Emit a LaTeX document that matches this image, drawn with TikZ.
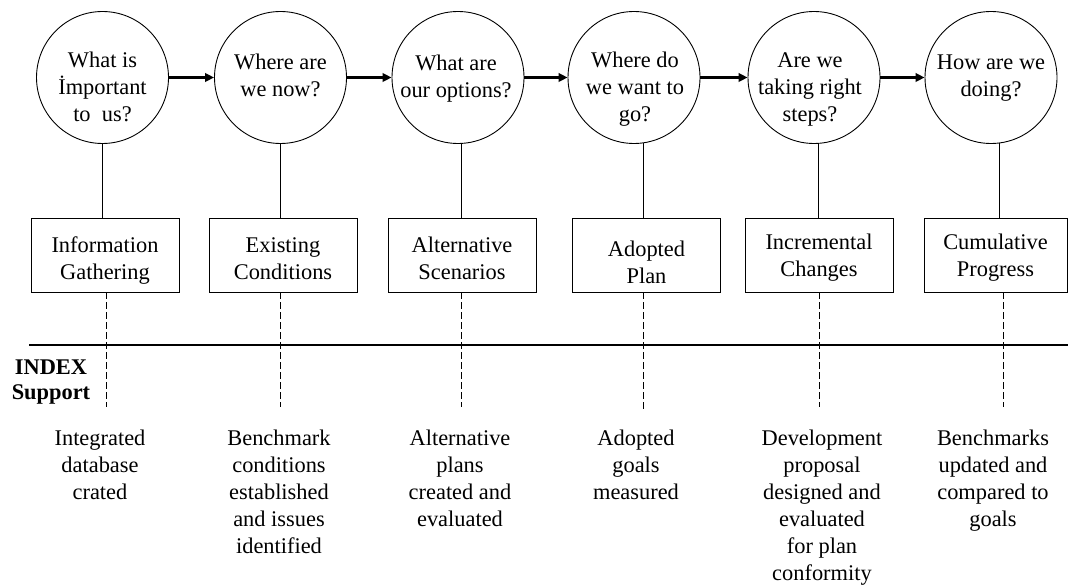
\documentclass[tikz,border=0pt]{standalone}
\usepackage{fontspec}
\setmainfont{Liberation Serif}
\usetikzlibrary{arrows.meta}
% centred multi-line text whose baseline is that of its first line
\newcommand\toplines[1]{\begin{tabular}[t]{@{}c@{}}#1\end{tabular}}
\begin{document}
\begin{tikzpicture}[x=1pt,y=-1pt,
  question/.style={circle,draw,line width=0.9pt,minimum size=132pt,inner sep=0pt},
  stagebox/.style={rectangle,draw,line width=0.9pt,minimum width=148pt,minimum height=74pt,inner sep=0pt},
  txt/.style={anchor=base,inner sep=0pt,font=\fontsize{22.4}{27}\selectfont},
  flow/.style={line width=2.4pt,-{Triangle[length=9pt,width=8.5pt]}},
  link/.style={line width=0.9pt},
  support/.style={line width=0.9pt,dash pattern=on 7pt off 3pt},
  divider/.style={line width=2.6pt},
]
\useasboundingbox (0,0) rectangle (1068,585);

% planning questions
\node[question] (c1) at (102.5,77.5) {};
\node[question] (c2) at (280.5,77.5) {};
\node[question] (c3) at (458,77.5) {};
\node[question] (c4) at (634,77.5) {};
\node[question] (c5) at (814,77.5) {};
\node[question] (c6) at (991,77.5) {};

\node[txt] (q1) at (102.5,68) {\toplines{What is\\İmportant\\to~~us?}};
\node[txt] (q2) at (280.5,70) {\toplines{Where are\\we now?}};
\node[txt] (q3) at (456,71) {\toplines{What are\\our options?}};
\node[txt] (q4) at (635,68) {\toplines{Where do\\we want to\\go?}};
\node[txt] (q5) at (810,68) {\toplines{Are we\\taking right\\steps?}};
\node[txt] (q6) at (991,70) {\toplines{How are we\\doing?}};

% flow between questions
\foreach \a/\b in {c1/c2,c2/c3,c3/c4,c4/c5,c5/c6}
  \draw[flow] (\a.east) -- (\b.west);

% planning stages
\node[stagebox] (b1) at (105,255) {};
\node[stagebox] (b2) at (283,255) {};
\node[stagebox] (b3) at (462,255) {};
\node[stagebox] (b4) at (646.5,255) {};
\node[stagebox] (b5) at (819,255) {};
\node[stagebox,minimum width=143pt] (b6) at (995.5,255) {};

\node[txt] (s1) at (105,253) {\toplines{Information\\Gathering}};
\node[txt] (s2) at (283,253) {\toplines{Existing\\Conditions}};
\node[txt] (s3) at (462,253) {\toplines{Alternative\\Scenarios}};
\node[txt] (s4) at (646.5,257) {\toplines{Adopted\\Plan}};
\node[txt] (s5) at (819,250) {\toplines{Incremental\\Changes}};
\node[txt] (s6) at (995.5,250) {\toplines{Cumulative\\Progress}};

% question to stage
\foreach \c/\b/\ang in {c1/b1/-90,c2/b2/-90,c3/b3/-87.4,c4/b4/-82.2,c5/b5/-86.5,c6/b6/-83.9}
  \draw[link] (\c.\ang) -- (\c.\ang |- \b.north);

% support level
\coordinate (hl) at (29,345);
\coordinate (hr) at (1068,345);
\draw[divider] (hl) -- (hr);
\node[txt,font=\fontsize{22.4}{25}\selectfont\bfseries] (idx) at (51,374) {\toplines{INDEX\\Support}};

\coordinate (d1) at (106,407);
\coordinate (d2) at (280,407);
\coordinate (d3) at (461,407);
\coordinate (d4) at (643.5,409);
\coordinate (d5) at (819,407);
\coordinate (d6) at (1003,407);
\foreach \b/\d in {b1/d1,b2/d2,b3/d3,b4/d4,b5/d5,b6/d6}
  \draw[support] (\b.south -| \d) -- (\d);

\node[txt] (o1) at (100,445) {\toplines{Integrated\\database\\crated}};
\node[txt] (o2) at (279,445) {\toplines{Benchmark\\conditions\\established\\and issues\\identified}};
\node[txt] (o3) at (460,445) {\toplines{Alternative\\plans\\created and\\evaluated}};
\node[txt] (o4) at (636,445) {\toplines{Adopted\\goals\\measured}};
\node[txt] (o5) at (822,445) {\toplines{Development\\proposal\\designed and\\evaluated\\for plan\\conformity}};
\node[txt] (o6) at (993,445) {\toplines{Benchmarks\\updated and\\compared to\\goals}};
\end{tikzpicture}
\end{document}
